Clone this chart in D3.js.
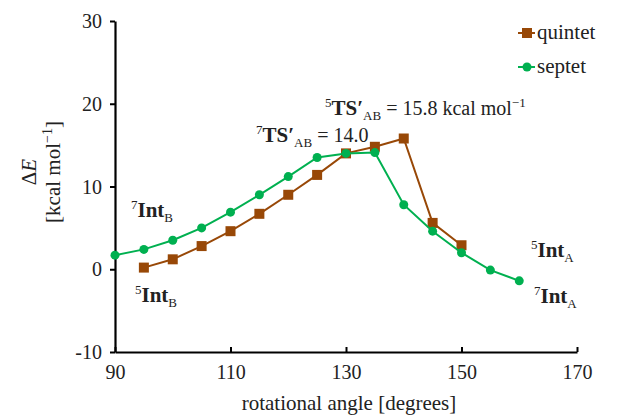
<!DOCTYPE html>
<html>
<head>
<meta charset="utf-8">
<script src="https://cdn.jsdelivr.net/npm/d3@7"></script>
<style>
  body { margin: 0; background: #fff; }
  text { font-family: "Liberation Serif", "Times New Roman", serif; fill: #222; }
</style>
</head>
<body>
<div id="chart"></div>
<script>
// Data
const quintetAngles = [95, 100, 105, 110, 115, 120, 125, 130, 135, 140, 145, 150];
const quintetEnergy = [0.2, 1.2, 2.8, 4.6, 6.7, 9.0, 11.4, 14.0, 14.8, 15.8, 5.6, 2.9];

const septetAngles = [90, 95, 100, 105, 110, 115, 120, 125, 130, 135, 140, 145, 150, 155, 160];
const septetEnergy = [1.7, 2.4, 3.5, 5.0, 6.9, 9.0, 11.2, 13.5, 14.0, 14.1, 7.8, 4.6, 2.0, -0.1, -1.4];

const xTicks = [90, 110, 130, 150, 170];
const yTicks = [-10, 0, 10, 20, 30];

const quintetColor = "#984807";
const septetColor = "#00B050";

const width = 629, height = 416;
const svg = d3.select("#chart").append("svg")
    .attr("width", width)
    .attr("height", height);

// Scales
const x = d3.scaleLinear().domain([90, 170]).range([115, 577]);
const y = d3.scaleLinear().domain([-10, 30]).range([352, 21]);

// Axes
const xAxis = svg.append("g")
    .attr("transform", "translate(0," + y(-10) + ")")
    .call(d3.axisBottom(x).tickValues(xTicks).tickSizeInner(-5).tickSizeOuter(0).tickPadding(13)
        .tickFormat(d => String(d)));
const yAxis = svg.append("g")
    .attr("transform", "translate(" + x(90) + ",0)")
    .call(d3.axisLeft(y).tickValues(yTicks).tickSizeInner(5).tickSizeOuter(0).tickPadding(8)
        .tickFormat(d => String(d)));

[xAxis, yAxis].forEach(g => {
    g.select(".domain").attr("stroke", "#000").attr("stroke-width", 2.2);
    g.selectAll(".tick line").attr("stroke", "#000").attr("stroke-width", 2);
    g.selectAll(".tick text")
        .style("font-family", "Liberation Serif, serif")
        .style("font-size", "20px")
        .attr("fill", "#222");
});
yAxis.selectAll(".tick text").attr("dy", "0.33em");

// Axis titles
svg.append("text")
    .attr("x", 349)
    .attr("y", 410)
    .attr("text-anchor", "middle")
    .style("font-size", "21px")
    .text("rotational angle [degrees]");

const yTitle = svg.append("g").attr("transform", "translate(36,172) rotate(-90)");
const t1 = yTitle.append("text").attr("text-anchor", "middle").style("font-size", "21px");
t1.append("tspan").text("\u0394");
t1.append("tspan").style("font-style", "italic").text("E");
const t2 = yTitle.append("text").attr("y", 24).attr("text-anchor", "middle").style("font-size", "21px");
t2.append("tspan").text("[kcal mol");
t2.append("tspan").attr("dy", -8).style("font-size", "14px").text("\u22121");
t2.append("tspan").attr("dy", 8).text("]");

// Series
const line = d3.line().x(d => x(d[0])).y(d => y(d[1]));
const quintet = d3.zip(quintetAngles, quintetEnergy);
const septet = d3.zip(septetAngles, septetEnergy);

svg.append("path").datum(quintet)
    .attr("fill", "none").attr("stroke", quintetColor).attr("stroke-width", 2)
    .attr("d", line);
svg.selectAll(".qpt").data(quintet).enter().append("rect")
    .attr("x", d => x(d[0]) - 5).attr("y", d => y(d[1]) - 5)
    .attr("width", 10).attr("height", 10)
    .attr("fill", quintetColor);

svg.append("path").datum(septet)
    .attr("fill", "none").attr("stroke", septetColor).attr("stroke-width", 2)
    .attr("d", line);
svg.selectAll(".spt").data(septet).enter().append("circle")
    .attr("cx", d => x(d[0])).attr("cy", d => y(d[1]))
    .attr("r", 4.5)
    .attr("fill", septetColor);

// Legend
function legendItem(yy, color, label, square) {
    svg.append("line").attr("x1", 518).attr("x2", 535).attr("y1", yy).attr("y2", yy)
        .attr("stroke", color).attr("stroke-width", 2);
    if (square) {
        svg.append("rect").attr("x", 522).attr("y", yy - 5).attr("width", 10).attr("height", 10).attr("fill", color);
    } else {
        svg.append("circle").attr("cx", 527).attr("cy", yy).attr("r", 4.5).attr("fill", color);
    }
    svg.append("text").attr("x", 537).attr("y", yy + 6).style("font-size", "21px").text(label);
}
legendItem(33, quintetColor, "quintet", true);
legendItem(67, septetColor, "septet", false);

// Annotations
function labelText(px, py, sup, bold, sub, rest, restSup) {
    const t = svg.append("text").attr("x", px).attr("y", py).style("font-size", "20px");
    t.append("tspan").attr("dy", -8).style("font-size", "13px").text(sup);
    t.append("tspan").attr("dy", 8).style("font-weight", "bold").style("font-size", "21px").text(bold);
    t.append("tspan").attr("dy", 5).style("font-size", "13px").text(sub);
    if (rest) {
        t.append("tspan").attr("dy", -5).text(rest);
        if (restSup) t.append("tspan").attr("dy", -8).style("font-size", "13px").text(restSup);
    }
}
labelText(325, 115, "5", "TS\u2032", "AB", " = 15.8 kcal mol", "\u22121");
labelText(256, 142, "7", "TS\u2032", "AB", " = 14.0", null);
labelText(131, 217, "7", "Int", "B", null, null);
labelText(135, 302, "5", "Int", "B", null, null);
labelText(531, 257, "5", "Int", "A", null, null);
labelText(534, 303, "7", "Int", "A", null, null);
</script>
</body>
</html>
